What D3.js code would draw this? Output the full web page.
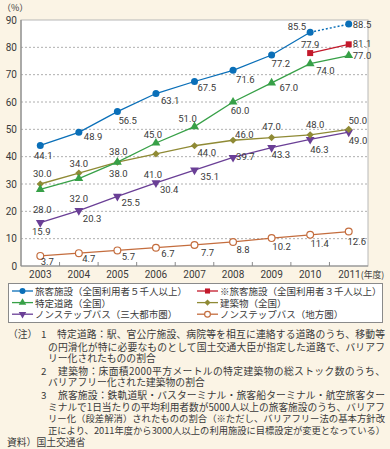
<!DOCTYPE html>
<html><head><meta charset="utf-8">
<script src="https://cdn.jsdelivr.net/npm/d3@7"></script>
<style>
html,body{margin:0;padding:0;background:#fbf4e5;}
svg{display:block;}
text{font-family:Roboto,"Noto Sans CJK JP",sans-serif;fill:#3a3a3a;}
.jp{font-family:"Noto Sans CJK JP",sans-serif;}
</style></head>
<body>
<script>
// ---------- data ----------
const years = ["2003","2004","2005","2006","2007","2008","2009","2010","2011"];
const yTicks = [0,10,20,30,40,50,60,70,80,90];
const passenger5k = [44.1,48.9,56.5,63.1,67.5,71.6,77.2,85.5,88.5];
const passenger3kYears = ["2010","2011"];
const passenger3k = [77.9,81.1];
const roads = [28.0,32.0,38.0,45.0,51.0,60.0,67.0,74.0,77.0];
const buildings = [30.0,34.0,38.0,41.0,44.0,46.0,47.0,48.0,50.0];
const busMetro = [15.9,20.3,25.5,30.4,35.1,39.7,43.3,46.3,49.0];
const busRegional = [3.7,4.7,5.7,6.7,7.7,8.8,10.2,11.4,12.6];
const seriesNames = ["旅客施設（全国利用者５千人以上）","※旅客施設（全国利用者３千人以上）","特定道路（全国）","建築物（全国）","ノンステップバス（三大都市圏）","ノンステップバス（地方圏）"];
const yearUnit = "(年度)";
const notes = [
 "特定道路：駅、官公庁施設、病院等を相互に連絡する道路のうち、移動等",
 "の円滑化が特に必要なものとして国土交通大臣が指定した道路で、バリアフ",
 "リー化されたものの割合",
 "建築物：床面積2000平方メートルの特定建築物の総ストック数のうち、",
 "バリアフリー化された建築物の割合",
 "旅客施設：鉄軌道駅・バスターミナル・旅客船ターミナル・航空旅客ター",
 "ミナルで1日当たりの平均利用者数が5000人以上の旅客施設のうち、バリアフ",
 "リー化（段差解消）されたものの割合（※ただし、バリアフリー法の基本方針改",
 "正により、2011年度から3000人以上の利用施設に目標設定が変更となっている）"
];
const source = "資料）国土交通省";

// ---------- layout ----------
const W=390,H=449;
const svg=d3.select("body").append("svg").attr("width",W).attr("height",H);
svg.append("rect").attr("width",W).attr("height",H).attr("fill","#fbf4e5");
const L=21,R=368,T=20,B=266;
const x=d3.scaleBand().domain(years).range([L,R]).padding(0);
const cx=d=>x(d)+x.bandwidth()/2;
const y=d3.scaleLinear().domain([0,90]).range([B,T]);

svg.append("rect").attr("x",L).attr("y",T).attr("width",R-L).attr("height",B-T)
  .attr("fill","#fff").attr("stroke","#b8b8b8").attr("stroke-width",1);
// grid
svg.append("g").selectAll("line").data(yTicks.filter(v=>v>0&&v<90)).join("line")
  .attr("x1",L).attr("x2",R).attr("y1",d=>y(d)).attr("y2",d=>y(d))
  .attr("stroke","#9a9a9a").attr("stroke-width",0.8).attr("stroke-dasharray","2,2");
// axes lines
svg.append("line").attr("x1",L).attr("x2",L).attr("y1",T).attr("y2",B).attr("stroke","#8a8a8a").attr("stroke-width",1.2);
svg.append("line").attr("x1",L).attr("x2",R).attr("y1",B).attr("y2",B).attr("stroke","#8a8a8a").attr("stroke-width",1.2);
// y axis
const ya=svg.append("g").attr("transform",`translate(${L},0)`)
  .call(d3.axisLeft(y).tickValues(yTicks).tickSize(0).tickPadding(4));
ya.select(".domain").remove();
ya.selectAll("text").attr("font-size","10px").attr("font-family","Roboto,sans-serif").attr("fill","#3a3a3a");
// x axis ticks at band boundaries (inward)
svg.append("g").selectAll("line").data(years.slice(1)).join("line")
  .attr("x1",d=>x(d)).attr("x2",d=>x(d)).attr("y1",B).attr("y2",B-4)
  .attr("stroke","#8a8a8a").attr("stroke-width",1);
const xa=svg.append("g").attr("transform",`translate(0,${B})`)
  .call(d3.axisBottom(x).tickSize(0).tickPadding(5));
xa.select(".domain").remove();
xa.selectAll("text").attr("font-size","10px").attr("font-family","Roboto,sans-serif").attr("fill","#3a3a3a");
const lastTick=xa.selectAll(".tick").filter(d=>d===years[years.length-1]).select("text");
lastTick.attr("text-anchor","start").attr("dx","-10.5");
lastTick.append("tspan").attr("font-family","Noto Sans CJK JP").attr("font-size","8.8px").text(yearUnit);
svg.append("text").attr("x",2).attr("y",7).attr("dominant-baseline","central")
  .attr("font-size","9px").attr("class","jp").text("（%）");

// ---------- series ----------
const series=[
 {id:"p5",name:seriesNames[0],color:"#0a6fb8",xs:years,vals:passenger5k,sym:"circle"},
 {id:"p3",name:seriesNames[1],color:"#c3192b",xs:passenger3kYears,vals:passenger3k,sym:"square"},
 {id:"rd",name:seriesNames[2],color:"#37a047",xs:years,vals:roads,sym:"tri"},
 {id:"bd",name:seriesNames[3],color:"#8f8a35",xs:years,vals:buildings,sym:"diamond"},
 {id:"bm",name:seriesNames[4],color:"#6a3f96",xs:years,vals:busMetro,sym:"tridown"},
 {id:"br",name:seriesNames[5],color:"#c46d3e",xs:years,vals:busRegional,sym:"open"}
];
// label placement [anchor,dx,dy]
const place={
 p5:[["middle",3,10],["start",5,4.5],["start",1,9],["start",5,6.5],["start",3,6],["start",3,9],["start",0,9],["end",-4,-6],["start",4,0.5]],
 p3:[["middle",0,-9],["start",4,-1]],
 rd:[["middle",2,20],["middle",0,20],["middle",1,11],["middle",-3,-9],["middle",-7,-8],["middle",7,8],["start",8,4.5],["start",6,7],["start",4,0]],
 bd:[["middle",2,-11],["middle",0,-10],["middle",1,-11],["middle",-3,21],["start",3,7],["start",2,-6],["middle",0,-11],["middle",5,-10],["middle",9,-9]],
 bm:[["middle",1,9],["start",4,8],["start",4,6],["start",4,7],["start",6,6],["start",3,-1],["start",0,7],["start",0,10],["start",0,8]],
 br:[["middle",7,6],["middle",10,5],["middle",11,6],["middle",12,6],["middle",13,8],["middle",10,8],["middle",10,8],["middle",9.5,9],["middle",8,10]]
};
function drawSym(g,s,px,py,scale){
  scale=scale||1;
  if(s.sym==="circle") g.append("circle").attr("cx",px).attr("cy",py).attr("r",3.5*scale).attr("fill",s.color);
  else if(s.sym==="open") g.append("circle").attr("cx",px).attr("cy",py).attr("r",3.4*scale).attr("fill","#fff").attr("stroke",s.color).attr("stroke-width",1.2);
  else {
    let type=d3.symbolSquare,size=36,rot=0;
    if(s.sym==="tri"){type=d3.symbolTriangle;size=34;}
    if(s.sym==="tridown"){type=d3.symbolTriangle;size=34;rot=180;}
    if(s.sym==="diamond"){type=d3.symbolSquare;size=26;rot=45;}
    g.append("path").attr("d",d3.symbol().type(type).size(size*scale*scale)())
      .attr("transform",`translate(${px},${py}) rotate(${rot})`).attr("fill",s.color);
  }
}
const order=["br","bm","bd","rd","p3","p5"];
order.forEach(id=>{
  const s=series.find(d=>d.id===id);
  const pts=s.xs.map((k,i)=>[cx(k),y(s.vals[i])]);
  const g=svg.append("g");
  if(id==="p5"){
    g.append("path").attr("d",d3.line()(pts.slice(0,pts.length-1))).attr("fill","none").attr("stroke",s.color).attr("stroke-width",1.3);
    g.append("path").attr("d",d3.line()(pts.slice(pts.length-2))).attr("fill","none").attr("stroke",s.color).attr("stroke-width",1.5).attr("stroke-dasharray","2,2");
  } else {
    g.append("path").attr("d",d3.line()(pts)).attr("fill","none").attr("stroke",s.color).attr("stroke-width",1.3);
  }
  pts.forEach(p=>drawSym(g,s,p[0],p[1]));
});
// labels
series.forEach(s=>{
  s.xs.forEach((k,i)=>{
    const pl=place[s.id][i];
    svg.append("text").attr("x",cx(k)+pl[1]).attr("y",y(s.vals[i])+pl[2])
      .attr("text-anchor",pl[0]).attr("dominant-baseline","central")
      .attr("font-size","9.5px").attr("fill","#3a3a3a").text(s.vals[i].toFixed(1));
  });
});

// ---------- legend ----------
const lg=svg.append("g");
lg.append("rect").attr("x",8.5).attr("y",283.5).attr("width",374).attr("height",39)
  .attr("fill","#fff").attr("stroke","#8a8a8a").attr("stroke-width",1);
const legPos=[[0,0],[1,0],[0,1],[1,1],[0,2],[1,2]];
series.forEach((s,i)=>{
  const [c,r]=legPos[i];
  const x0=c===0?12:197, ly=291+r*11.6;
  lg.append("line").attr("x1",x0).attr("x2",x0+21).attr("y1",ly).attr("y2",ly).attr("stroke",s.color).attr("stroke-width",1.3);
  drawSym(lg,s,x0+10.5,ly,0.85);
  lg.append("text").attr("x",x0+23).attr("y",ly).attr("dominant-baseline","central")
    .attr("class","jp").attr("font-family","Noto Sans CJK JP").attr("font-size","9.5px").text(s.name);
});

// ---------- notes ----------
const ng=svg.append("g").attr("font-family","Noto Sans CJK JP");
const noteY=[333.5,346.5,357.5,370.5,382,395,406.5,418,429.5];
const noteX=[57,48,48,58,48,58,48,48,48];
const justify=[true,true,false,true,false,true,true,true,true];
const noteRight=385;
notes.forEach((t,i)=>{
  const tx=ng.append("text").attr("x",noteX[i]).attr("y",noteY[i]).attr("dominant-baseline","central")
    .attr("font-size","9.8px").attr("class","jp").attr("fill","#444").text(t);
  if(justify[i]){
    const target=noteRight-noteX[i];
    const nat=tx.node().getComputedTextLength();
    if(nat>target){ tx.attr("font-size",(9.8*target/nat).toFixed(2)+"px"); }
    tx.attr("textLength",target).attr("lengthAdjust","spacing");
  }
});
ng.append("text").attr("x",8).attr("y",noteY[0]).attr("dominant-baseline","central").attr("font-size","9.8px").attr("class","jp").attr("fill","#444").text("（注）");
[["1",0],["2",3],["3",5]].forEach(([n,i])=>{
  ng.append("text").attr("x",41).attr("y",noteY[i]).attr("dominant-baseline","central").attr("font-size","9.8px").attr("class","jp").attr("fill","#444").text(n);
});
ng.append("text").attr("x",7).attr("y",441.5).attr("dominant-baseline","central").attr("font-size","9.8px").attr("class","jp").attr("fill","#444").text(source);
</script>
</body></html>
